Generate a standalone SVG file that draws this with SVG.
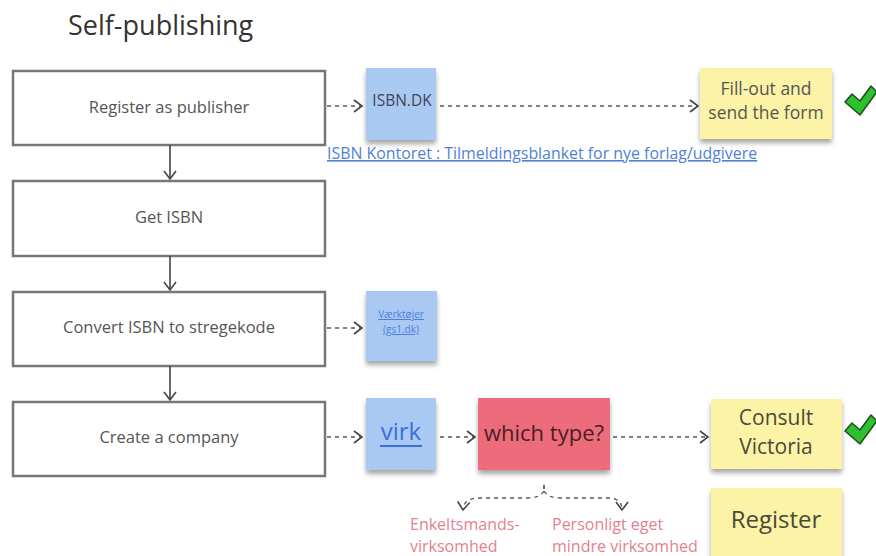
<svg xmlns="http://www.w3.org/2000/svg" width="876" height="556" viewBox="0 0 876 556">
<defs>
<marker id="chev" markerWidth="12" markerHeight="14" refX="10" refY="7" orient="auto" markerUnits="userSpaceOnUse">
<path d="M2,1 L10,7 L2,13" fill="none" stroke="#444" stroke-width="1.6"/>
</marker>
<filter id="sh" x="-20%" y="-20%" width="140%" height="150%">
<feGaussianBlur in="SourceAlpha" stdDeviation="2.5"/>
<feOffset dx="0" dy="4" result="b"/>
<feComponentTransfer><feFuncA type="linear" slope="0.35"/></feComponentTransfer>
<feMerge><feMergeNode/><feMergeNode in="SourceGraphic"/></feMerge>
</filter>
</defs>
<style>
text{font-family:"Open Sans","Liberation Sans",sans-serif}
.box{fill:#fff;stroke:#777;stroke-width:2.5}
.bt{font-size:16.5px;fill:#555;text-anchor:middle}
.blue{fill:#a9c9f2}
.yel{fill:#fcf3a6}
.red{fill:#ec6c7b}
.dash{fill:none;stroke:#555;stroke-width:1.3;stroke-dasharray:4 4}
.solid{fill:none;stroke:#444;stroke-width:1.6}
.link{fill:#4f7fd9;text-decoration:underline}
.pink{font-size:16px;fill:#e3818f}
.yt{font-size:17.5px;fill:#555;text-anchor:middle}
.check{fill:#2ec02e;stroke:#1d4d1d;stroke-width:1.5;stroke-linejoin:round}
</style>
<rect width="876" height="556" fill="#fff"/>
<text x="68" y="35" font-size="27" fill="#333">Self-publishing</text>

<g id="n1"><rect class="box" x="13" y="71" width="312" height="74"/><text class="bt" x="169" y="113">Register as publisher</text></g>
<g id="n2"><rect class="box" x="13" y="181" width="312" height="75"/><text class="bt" x="169" y="223">Get ISBN</text></g>
<g id="n3"><rect class="box" x="13" y="292" width="312" height="74"/><text class="bt" x="169" y="333">Convert ISBN to stregekode</text></g>
<g id="n4"><rect class="box" x="13" y="402" width="312" height="74"/><text class="bt" x="169" y="443">Create a company</text></g>

<g id="isbndk"><rect class="blue" x="366" y="68" width="70" height="72" filter="url(#sh)"/><text x="402" y="106" font-size="15.5" fill="#445" text-anchor="middle">ISBN.DK</text></g>
<g id="isbnlink"><text class="link" x="327" y="159" font-size="15.9">ISBN Kontoret : Tilmeldingsblanket for nye forlag/udgivere</text></g>
<g id="fillout"><rect class="yel" x="700" y="68" width="132" height="71" filter="url(#sh)"/><text class="yt" x="766" y="95">Fill-out and</text><text class="yt" x="766" y="119">send the form</text></g>
<g id="check1"><path class="check" d="M845,102 L852,94 L860,101 L871,86 L877,92 L860,115 Z"/></g>

<g id="vaerktoejer"><rect class="blue" x="366" y="291" width="71" height="70" filter="url(#sh)"/><text class="link" x="401" y="318" font-size="10" text-anchor="middle">Værktøjer</text><text class="link" x="401" y="333" font-size="10" text-anchor="middle">(gs1.dk)</text></g>

<g id="virk"><rect class="blue" x="366" y="398" width="70" height="72" filter="url(#sh)"/><text x="401" y="440" font-size="24" fill="#3a6fd8" text-anchor="middle">virk</text><line x1="380" y1="446" x2="422" y2="446" stroke="#3a6fd8" stroke-width="2"/></g>
<g id="whichtype"><rect class="red" x="478" y="398" width="132" height="72" filter="url(#sh)"/><text x="544" y="441" font-size="22" fill="#4a1e24" text-anchor="middle">which type?</text></g>
<g id="consult"><rect class="yel" x="711" y="399" width="131" height="70" filter="url(#sh)"/><text x="776" y="425" font-size="21" fill="#4a4a3a" text-anchor="middle">Consult</text><text x="776" y="454" font-size="21" fill="#4a4a3a" text-anchor="middle">Victoria</text></g>
<g id="check2"><path class="check" d="M845,431 L852,423 L860,430 L871,415 L877,421 L860,444 Z"/></g>
<g id="register"><rect class="yel" x="711" y="488" width="131" height="72" filter="url(#sh)"/><text x="776" y="528" font-size="24" fill="#4a4a3a" text-anchor="middle">Register</text></g>

<g id="enkelt"><text class="pink" x="410" y="530">Enkeltsmands-</text><text class="pink" x="410" y="552">virksomhed</text></g>
<g id="personligt"><text class="pink" x="552" y="530">Personligt eget</text><text class="pink" x="552" y="552">mindre virksomhed</text></g>

<g id="connectors">
<line class="solid" x1="170" y1="145" x2="170" y2="179" marker-end="url(#chev)"/>
<line class="solid" x1="170" y1="256" x2="170" y2="290" marker-end="url(#chev)"/>
<line class="solid" x1="170" y1="366" x2="170" y2="400" marker-end="url(#chev)"/>
<line class="dash" x1="327" y1="106" x2="362" y2="106" marker-end="url(#chev)"/>
<line class="dash" x1="440" y1="106" x2="698" y2="106" marker-end="url(#chev)"/>
<line class="dash" x1="327" y1="328" x2="362" y2="328" marker-end="url(#chev)"/>
<line class="dash" x1="327" y1="437" x2="362" y2="437" marker-end="url(#chev)"/>
<line class="dash" x1="440" y1="437" x2="475" y2="437" marker-end="url(#chev)"/>
<line class="dash" x1="613" y1="437" x2="708" y2="437" marker-end="url(#chev)"/>
<line x1="544" y1="485" x2="544" y2="489" stroke="#444" stroke-width="1.6"/>
<path class="dash" d="M544,491 Q540,498 528,498 L478,498 Q464,498 463,510" marker-end="url(#chev)"/>
<path class="dash" d="M544,491 Q548,498 560,498 L608,498 Q622,498 622,510" marker-end="url(#chev)"/>
</g>
</svg>
